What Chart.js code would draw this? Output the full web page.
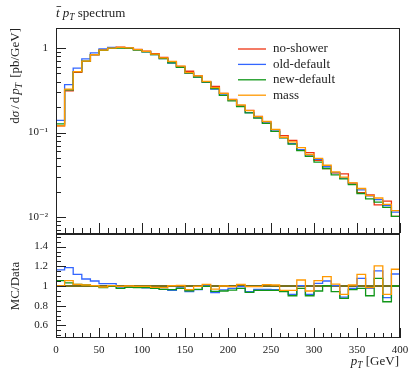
<!DOCTYPE html>
<html>
<head>
<meta charset="utf-8">
<script src="https://cdn.jsdelivr.net/npm/chart.js@4.4.0/dist/chart.umd.min.js"></script>
<style>
html, body { margin: 0; padding: 0; background: #fff; }
#wrap { position: relative; width: 410px; height: 369px; }
#wrap canvas { position: absolute; left: 0; top: 0; }
</style>
</head>
<body>
<div id="wrap">
  <canvas id="topPanel" width="410" height="369"></canvas>
  <canvas id="ratioPanel" width="410" height="369"></canvas>
</div>
<script>
// bin edges (GeV)
var binEdges = [0,10,20,30,40,50,60,70,80,90,100,110,120,130,140,150,160,170,180,190,
  200,210,220,230,240,250,260,270,280,290,300,310,320,330,340,350,360,370,380,390,400];

var seriesNames = ["no-shower", "old-default", "new-default", "mass"];
var seriesColors = ["#ee3311", "#3366ff", "#109618", "#ff9900"];

// no-shower is the reference (ratio = 1), values in pb/GeV
var noShower = [0.120,0.310,0.515,0.693,0.830,0.950,0.990,1.020,1.000,0.960,
  0.915,0.855,0.775,0.690,0.605,0.530,0.468,0.395,0.350,0.290,
  0.247,0.208,0.183,0.155,0.134,0.108,0.092,0.081,0.0625,0.058,
  0.047,0.0375,0.0335,0.0325,0.0252,0.0195,0.0183,0.0140,0.0155,0.0102];

// MC / reference ratios
var ratioOldDefault = [1.163,1.187,1.119,1.071,1.051,1.024,1.024,0.990,0.990,0.987,
  0.980,0.976,0.966,0.956,0.980,0.942,0.963,1.000,0.932,0.960,
  0.976,0.993,0.942,0.966,0.966,0.963,0.949,0.915,1.003,0.915,
  1.027,1.051,1.003,0.888,0.976,1.078,0.976,1.153,0.881,1.122];
var ratioNewDefault = [1.054,1.031,1.017,1.010,1.003,0.983,1.000,0.976,0.986,0.983,
  0.983,0.976,0.966,0.963,0.976,0.952,0.966,0.997,0.946,0.949,
  0.959,0.976,0.935,0.956,0.956,0.956,0.942,0.901,0.976,0.901,
  0.949,1.003,0.942,0.874,0.963,0.976,0.901,1.078,0.840,1.000];
var ratioMass = [1.000,1.054,1.017,1.010,1.003,0.990,1.003,0.997,1.000,0.997,
  0.997,0.986,0.983,1.003,1.007,0.963,0.997,1.017,0.969,1.000,
  0.993,1.017,0.993,0.993,1.014,1.010,0.956,0.956,1.061,0.949,
  1.054,1.095,1.020,0.915,1.010,1.119,0.983,1.204,0.915,1.170];
var ratioNoShower = [1,1,1,1,1,1,1,1,1,1,1,1,1,1,1,1,1,1,1,1,
  1,1,1,1,1,1,1,1,1,1,1,1,1,1,1,1,1,1,1,1];

var xTicks = [0,50,100,150,200,250,300,350,400];
var yTopTicks = [0.01, 0.1, 1];
var yTopTickLabels = ["10\u207B\u00B2", "10\u207B\u00B9", "1"];
var ratioTicks = [0.6, 0.8, 1, 1.2, 1.4];

var serif = '"Liberation Serif", "DejaVu Serif", serif';

function steps(values) {
  var pts = [];
  for (var i = 0; i < values.length; i++) pts.push({x: binEdges[i], y: values[i]});
  pts.push({x: binEdges[binEdges.length - 1], y: values[values.length - 1]});
  return pts;
}
function times(a, b) {
  return a.map(function(v, i){ return v * b[i]; });
}

var ratios = [ratioNoShower, ratioOldDefault, ratioNewDefault, ratioMass];
var drawOrder = [3, 2, 1, 0];

function makeSets(kind) {
  return seriesNames.map(function(name, i){
    var vals = kind === 'top' ? times(noShower, ratios[i]) : ratios[i];
    return {
      label: name,
      data: steps(vals),
      borderColor: (kind === 'ratio' && i === 0) ? '#77701e' : seriesColors[i],
      borderWidth: (kind === 'ratio' && i === 0) ? 2 : 1.3,
      stepped: 'before',
      pointRadius: 0,
      fill: false,
      order: drawOrder[i]
    };
  });
}

// rich text: parts [{t, it, sub, gap}]
function drawRich(ctx, parts, x, y, align, size) {
  function f(p) {
    var s = p.sub ? size * 0.72 : size;
    return (p.it ? 'italic ' : '') + s + 'px ' + serif;
  }
  var total = 0;
  parts.forEach(function(p){
    ctx.font = f(p);
    p.w = (p.t ? ctx.measureText(p.t).width : 0) + (p.gap || 0);
    total += p.w;
  });
  var cx = align === 'right' ? x - total : (align === 'center' ? x - total / 2 : x);
  ctx.textAlign = 'left';
  ctx.textBaseline = 'alphabetic';
  parts.forEach(function(p){
    ctx.font = f(p);
    if (p.t) ctx.fillText(p.t, cx, y + (p.sub ? size * 0.25 : 0));
    p.x = cx;
    cx += p.w;
  });
  return parts;
}

function drawXTicksUp(ctx, chart) {
  var xs = chart.scales.x, a = chart.chartArea;
  for (var v = 0; v <= 400; v += 10) {
    var px = Math.round(xs.getPixelForValue(v)) + 0.5;
    var len = v % 50 === 0 ? 10 : 5;
    ctx.beginPath(); ctx.moveTo(px, a.bottom); ctx.lineTo(px, a.bottom - len); ctx.stroke();
  }
}

var topDecor = {
  id: 'topDecor',
  afterDraw: function(chart) {
    var ctx = chart.ctx, a = chart.chartArea, ys = chart.scales.y;
    ctx.save();
    ctx.strokeStyle = '#222';
    ctx.lineWidth = 1;
    // log ticks
    [0.001, 0.01, 0.1, 1].forEach(function(d){
      for (var k = 1; k <= 9; k++) {
        var v = k * d;
        if (v < ys.min || v > ys.max) continue;
        var py = Math.round(ys.getPixelForValue(v)) + 0.5;
        var len = k === 1 ? 10 : 5;
        ctx.beginPath(); ctx.moveTo(a.left, py); ctx.lineTo(a.left + len, py); ctx.stroke();
      }
    });
    drawXTicksUp(ctx, chart);
    ctx.strokeRect(a.left + 0.5, a.top + 0.5, a.right - a.left - 1, a.bottom - a.top);

    ctx.fillStyle = '#222';
    // title
    var t = drawRich(ctx, [{t: 't', it: true}, {t: ' '}, {t: 'p', it: true}, {t: 'T', it: true, sub: true}, {t: ' spectrum'}], 56, 17, 'left', 13);
    ctx.beginPath(); ctx.lineWidth = 0.8;
    ctx.moveTo(t[0].x + 0.5, 6.5); ctx.lineTo(t[0].x + t[0].w + 1.5, 6.5); ctx.stroke();
    ctx.lineWidth = 1;

    // y title
    ctx.save();
    ctx.translate(19, a.top);
    ctx.rotate(-Math.PI / 2);
    drawRich(ctx, [{t: 'd'}, {t: '\u03C3', it: true, gap: 2}, {t: '/', gap: 2}, {t: 'd', gap: 2},
      {t: 'p', it: true}, {t: 'T', it: true, sub: true, gap: 2}, {t: ' [pb/GeV]'}], 0, 0, 'right', 13);
    ctx.restore();

    // legend
    seriesNames.forEach(function(name, i){
      var ly = 49 + i * 15.4;
      ctx.strokeStyle = seriesColors[i];
      ctx.lineWidth = 1.3;
      ctx.beginPath(); ctx.moveTo(238, ly); ctx.lineTo(266, ly); ctx.stroke();
      ctx.fillStyle = '#222';
      ctx.font = '13px ' + serif;
      ctx.textAlign = 'left';
      ctx.textBaseline = 'middle';
      ctx.fillText(name, 273, ly);
    });
    ctx.restore();
  }
};

var ratioDecor = {
  id: 'ratioDecor',
  afterDraw: function(chart) {
    var ctx = chart.ctx, a = chart.chartArea, ys = chart.scales.y;
    ctx.save();
    ctx.strokeStyle = '#222';
    ctx.lineWidth = 1;
    for (var i = 10; i <= 30; i++) {
      var v = i * 0.05;
      if (v < ys.min || v > ys.max) continue;
      var py = Math.round(ys.getPixelForValue(v)) + 0.5;
      var len = i % 4 === 0 ? 10 : 5;
      ctx.beginPath(); ctx.moveTo(a.left, py); ctx.lineTo(a.left + len, py); ctx.stroke();
    }
    drawXTicksUp(ctx, chart);
    ctx.strokeRect(a.left + 0.5, a.top + 0.5, a.right - a.left - 1, a.bottom - a.top - 1);

    ctx.fillStyle = '#222';
    ctx.save();
    ctx.translate(19, (a.top + a.bottom) / 2);
    ctx.rotate(-Math.PI / 2);
    drawRich(ctx, [{t: 'MC/Data'}], 0, 0, 'center', 13);
    ctx.restore();

    drawRich(ctx, [{t: 'p', it: true}, {t: 'T', it: true, sub: true}, {t: ' [GeV]'}], 399, 365, 'right', 13);
    ctx.restore();
  }
};

var tickFont = {family: serif, size: 11};

new Chart(document.getElementById('topPanel'), {
  type: 'line',
  data: {datasets: makeSets('top')},
  options: {
    responsive: false,
    animation: false,
    layout: {padding: {left: 0, right: 10, top: 28, bottom: 136}},
    plugins: {legend: {display: false}, tooltip: {enabled: false}},
    scales: {
      x: {type: 'linear', min: 0, max: 400, display: false},
      y: {
        type: 'logarithmic', min: 0.0065, max: 1.72,
        afterFit: function(s){ s.width = 56; s.paddingTop = 0; s.paddingBottom = 0; },
        afterBuildTicks: function(s){ s.ticks = yTopTicks.map(function(v){ return {value: v}; }); },
        grid: {display: false, drawTicks: false},
        border: {display: false},
        ticks: {
          padding: 8, color: '#222', font: tickFont,
          callback: function(v){ var i = yTopTicks.indexOf(v); return i >= 0 ? yTopTickLabels[i] : ''; }
        }
      }
    }
  },
  plugins: [topDecor]
});

new Chart(document.getElementById('ratioPanel'), {
  type: 'line',
  data: {datasets: makeSets('ratio')},
  options: {
    responsive: false,
    animation: false,
    layout: {padding: {left: 0, right: 10, top: 234, bottom: 0}},
    plugins: {legend: {display: false}, tooltip: {enabled: false}},
    scales: {
      x: {
        type: 'linear', min: 0, max: 400,
        afterFit: function(s){ s.height = 31; s.paddingLeft = 0; s.paddingRight = 0; },
        afterBuildTicks: function(s){ s.ticks = xTicks.map(function(v){ return {value: v}; }); },
        grid: {display: false, drawTicks: false},
        border: {display: false},
        ticks: {padding: 6, color: '#222', font: tickFont, autoSkip: false, maxRotation: 0}
      },
      y: {
        type: 'linear', min: 0.472, max: 1.528,
        afterFit: function(s){ s.width = 56; s.paddingTop = 0; s.paddingBottom = 0; },
        afterBuildTicks: function(s){ s.ticks = ratioTicks.map(function(v){ return {value: v}; }); },
        grid: {display: false, drawTicks: false},
        border: {display: false},
        ticks: {padding: 8, color: '#222', font: tickFont, callback: function(v){ return String(v); }}
      }
    }
  },
  plugins: [ratioDecor]
});
</script>
</body>
</html>
